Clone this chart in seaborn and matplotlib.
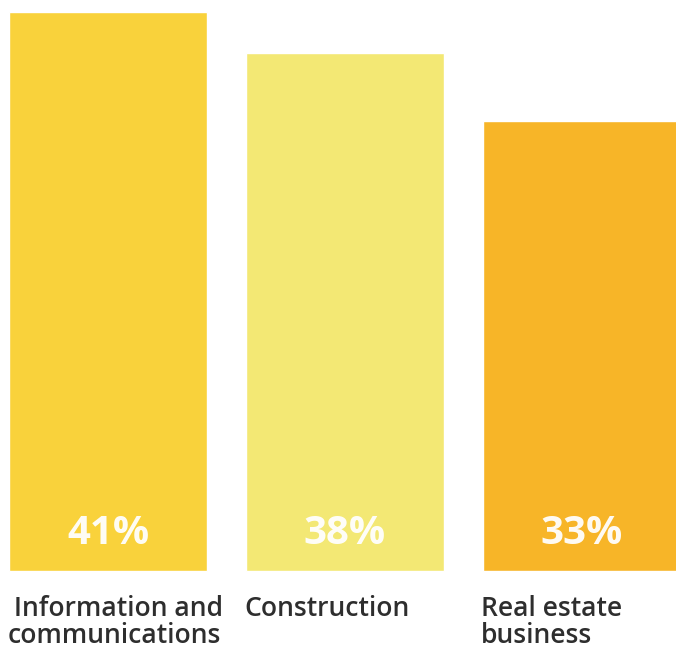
import matplotlib
matplotlib.use("Agg")
import matplotlib.pyplot as plt
import seaborn as sns
import pandas as pd

# Share of companies by sector (%)
sectors = [" Information and\ncommunications", "Construction", "Real estate\nbusiness"]
shares = [41, 38, 33]
bar_colors = ["#F9D23B", "#F3E874", "#F7B528"]

df = pd.DataFrame({"sector": sectors, "share": shares})

sns.set_theme(style="white")
plt.rcParams["font.family"] = ["Open Sans", "DejaVu Sans"]

fig = plt.figure(figsize=(6.76, 6.5), dpi=100)
ax = fig.add_axes([0, 0, 1, 1])

bar_width = 0.835
sns.barplot(data=df, x="sector", y="share", hue="sector", palette=bar_colors,
            width=bar_width, legend=False, saturation=1, ax=ax)

ax.set_xlim(-0.456, 2.397)
ax.set_ylim(-5.79, 41.88)
ax.axis("off")

for i, (name, val) in enumerate(zip(sectors, shares)):
    # value label near the base of each bar
    ax.text(i, 2.75, f"{val}%", ha="center", va="center", color="white",
            fontsize=29, fontweight="bold", alpha=0.95)
    # category label, left-aligned to the bar edge
    ax.text(i - bar_width / 2 - 0.008, -1.72, name,
            ha="left", va="top", color="#2e2e2e", fontsize=19.1,
            fontweight="semibold", linespacing=0.97)

fig.savefig("out.png", dpi=100)
